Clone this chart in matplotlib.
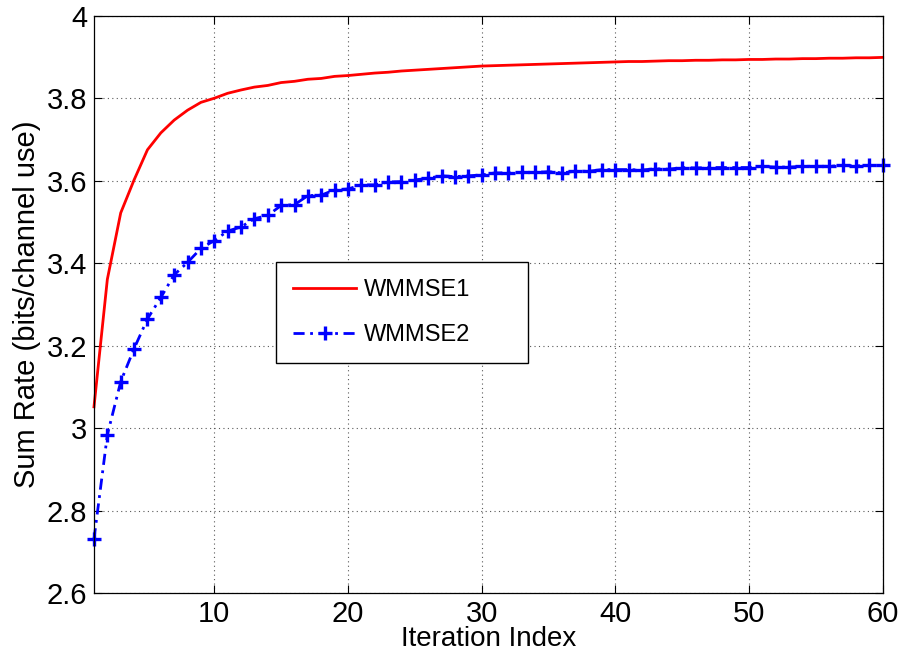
import matplotlib.pyplot as plt
import numpy as np

plt.rcParams['font.family'] = ['Liberation Sans', 'DejaVu Sans']
plt.rcParams['font.size'] = 21

# data (iterations 1..60)
iters = np.arange(1, 61)
wmmse1 = [3.052, 3.361, 3.522, 3.602, 3.675, 3.716, 3.747, 3.771, 3.790, 3.800,
          3.812, 3.820, 3.827, 3.831, 3.838, 3.841, 3.846, 3.848, 3.853, 3.855,
          3.858, 3.861, 3.863, 3.866, 3.868, 3.870, 3.872, 3.874, 3.876, 3.878,
          3.879, 3.880, 3.881, 3.882, 3.883, 3.884, 3.885, 3.886, 3.887, 3.888,
          3.889, 3.889, 3.890, 3.891, 3.891, 3.892, 3.892, 3.893, 3.893, 3.894,
          3.894, 3.895, 3.895, 3.896, 3.896, 3.897, 3.897, 3.898, 3.898, 3.899]
wmmse2 = [2.731, 2.984, 3.113, 3.193, 3.265, 3.317, 3.372, 3.402, 3.436, 3.455,
          3.478, 3.488, 3.508, 3.516, 3.540, 3.542, 3.564, 3.565, 3.578, 3.580,
          3.590, 3.590, 3.597, 3.598, 3.602, 3.606, 3.612, 3.610, 3.612, 3.614,
          3.619, 3.619, 3.620, 3.620, 3.622, 3.619, 3.623, 3.623, 3.627, 3.627,
          3.627, 3.626, 3.629, 3.628, 3.632, 3.631, 3.632, 3.632, 3.632, 3.632,
          3.635, 3.633, 3.633, 3.635, 3.635, 3.635, 3.637, 3.636, 3.637, 3.637]
xticks = [10, 20, 30, 40, 50, 60]
yticks = [2.6, 2.8, 3.0, 3.2, 3.4, 3.6, 3.8, 4.0]
yticklabels = ['2.6', '2.8', '3', '3.2', '3.4', '3.6', '3.8', '4']

fig = plt.figure(figsize=(9.01, 6.55), dpi=100)
ax = fig.add_axes([0.1043, 0.0942, 0.8754, 0.8818])

ax.plot(iters, wmmse1, color='red', lw=2, label='WMMSE1', clip_on=False)
line, = ax.plot(iters, wmmse2, color='blue', lw=2, marker='+', ms=9.5, mew=2.4,
                label='WMMSE2', clip_on=False)
line.set_dashes([4, 2, 1, 2])

ax.set_xlim(1, 60)
ax.set_ylim(2.6, 4.0)
ax.set_xticks(xticks)
ax.set_yticks(yticks)
ax.set_yticklabels(yticklabels)
ax.grid(True, linestyle=(0, (1, 3)), color='0.35', lw=0.8)
ax.tick_params(direction='in', top=True, right=True, length=6, width=0.8)
ax.tick_params(axis='x', pad=5)
ax.tick_params(axis='y', pad=5)
for s in ax.spines.values():
    s.set_linewidth(0.9)

ax.set_xlabel('Iteration Index', fontsize=20, labelpad=-1.5)
ax.set_ylabel('Sum Rate (bits/channel use)', labelpad=4)

leg = ax.legend(loc='upper left', bbox_to_anchor=(0.231, 0.386, 0.319, 0.187),
                mode='expand', fontsize=17, fancybox=False, framealpha=1,
                edgecolor='black', handlelength=2.7, handletextpad=0.3,
                labelspacing=1.0, borderpad=0.7, borderaxespad=0)
leg.get_frame().set_linewidth(1.0)

fig.savefig('out.png', dpi=100)
